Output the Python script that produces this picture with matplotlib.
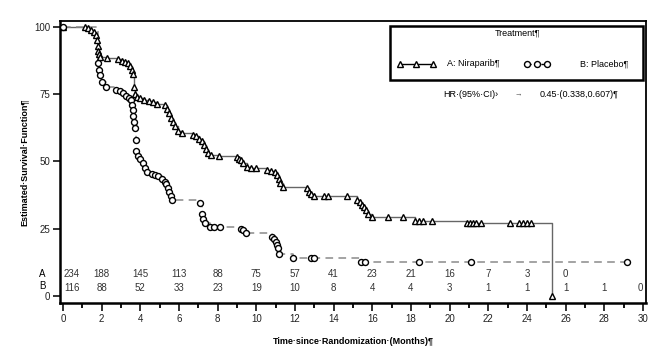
import numpy as np
import matplotlib.pyplot as plt
from matplotlib.patches import Rectangle

plt.rcParams['font.family'] = ['Liberation Sans', 'DejaVu Sans']

# Niraparib arm (time in months, survival %)
nira_t = [0, 1.15, 1.3, 1.45, 1.6, 1.7, 1.75, 1.8, 1.82, 1.85, 1.9, 2.3, 2.85, 3.05,
          3.2, 3.35, 3.45, 3.55, 3.6, 3.65, 3.7, 3.85, 4.0, 4.2, 4.45, 4.65, 4.85,
          5.25, 5.4, 5.5, 5.6, 5.7, 5.8, 5.95, 6.15, 6.7, 6.9, 7.05, 7.2, 7.3, 7.4,
          7.5, 7.65, 8.05, 9.0, 9.1, 9.2, 9.3, 9.5, 9.7, 10.0, 10.55, 10.75, 10.95,
          11.05, 11.15, 11.25, 11.4, 12.6, 12.75, 12.85, 13.0, 13.5, 13.7, 14.7,
          15.2, 15.35, 15.45, 15.55, 15.65, 15.8, 16.0, 16.8, 17.6, 18.2, 18.4,
          18.6, 19.1, 20.9, 21.05, 21.2, 21.35, 21.6, 23.1, 23.6, 23.8, 24.0, 24.2,
          25.3]
nira_s = [100, 100, 99.5, 99, 98, 97, 95, 93, 91, 90, 89, 88.5, 88, 87.5,
          87, 86.5, 85.5, 84, 82.5, 77.5, 75, 74, 73.5, 73, 72.5, 72, 71.5,
          71, 69.5, 68, 66, 64.5, 63, 61.5, 60.5, 60, 59.5, 58.5, 57.5, 56, 54.5,
          53, 52.5, 52, 51.5, 51, 50.5, 49.5, 48, 47.5, 47.5, 47, 46.5, 46,
          45, 43.5, 42, 40.5, 40, 38.5, 38, 37, 37, 37, 37,
          35.5, 35, 34, 33, 32, 30.5, 29.5, 29.5, 29.5, 28, 28,
          28, 28, 27, 27, 27, 27, 27, 27, 27, 27, 27, 27,
          0]

# Placebo arm
plac_t = [0, 1.82, 1.85, 1.9, 2.0, 2.2, 2.75, 2.95, 3.1, 3.25, 3.4, 3.5, 3.57, 3.6,
          3.62, 3.65, 3.7, 3.75, 3.78, 3.9, 4.0, 4.15, 4.25, 4.35, 4.6, 4.75, 4.9,
          5.1, 5.25, 5.35, 5.45, 5.5, 5.6, 5.65, 7.1, 7.2, 7.25, 7.35, 7.6, 7.8,
          8.1, 9.2, 9.3, 9.45, 10.8, 10.9, 11.0, 11.05, 11.1, 11.15, 11.9, 12.85,
          13.0, 15.4, 15.6, 18.4, 21.1, 29.2]
plac_s = [100, 86.5, 84, 82, 79.5, 77.5, 76.5, 76, 75.5, 74.5, 73.5, 73, 71, 69,
          67, 64.5, 62.5, 58, 54, 52, 51, 49.5, 47.5, 46, 45.5, 45, 44.5,
          43.5, 42.5, 41.5, 40, 38.5, 37, 35.5, 34.5, 30.5, 28.5, 27, 25.5, 25.5,
          25.5, 25, 24.5, 23.5, 22, 21, 20, 19, 18, 15.5, 14, 14,
          14, 12.5, 12.5, 12.5, 12.5, 12.5]

# numbers at risk
risk_times_a = [0, 2, 4, 6, 8, 10, 12, 14, 16, 18, 20, 22, 24, 26]
risk_a = [234, 188, 145, 113, 88, 75, 57, 41, 23, 21, 16, 7, 3, 0]
risk_times_b = [0, 2, 4, 6, 8, 10, 12, 14, 16, 18, 20, 22, 24, 26, 28, 30]
risk_b = [116, 88, 52, 33, 23, 19, 10, 8, 4, 4, 3, 1, 1, 1, 1, 0]

fig = plt.figure(figsize=(6.7, 3.55), dpi=100)
ax = fig.add_axes([0.0896, 0.1465, 0.8746, 0.7944])

ax.plot(nira_t, nira_s, drawstyle='steps-post', color='#666666', lw=1.0, zorder=2)
ax.plot(nira_t, nira_s, ls='none', marker='^', ms=4.8, mfc='white', mec='black', mew=1.0, zorder=3)
ax.plot(plac_t, plac_s, drawstyle='steps-post', color='#8a8a8a', lw=1.1, ls=(0, (5, 3.5)), zorder=2)
ax.plot(plac_t, plac_s, ls='none', marker='o', ms=4.3, mfc='white', mec='black', mew=1.0, zorder=3)


def risk_row(times, counts, y):
    for t, n in zip(times, counts):
        if t == 0:
            ax.text(t + 0.05, y, str(n), ha='left', va='center', fontsize=7, color='#333333')
        elif t == 30:
            ax.text(t - 0.02, y, str(n), ha='right', va='center', fontsize=7, color='#333333')
        else:
            ax.text(t, y, str(n), ha='center', va='center', fontsize=7, color='#333333')


risk_row(risk_times_a, risk_a, 8.2)
risk_row(risk_times_b, risk_b, 3.0)
ax.text(-1.05, 8.2, 'A', ha='center', va='center', fontsize=7, clip_on=False)
ax.text(-1.05, 3.6, 'B', ha='center', va='center', fontsize=7, clip_on=False)

ax.set_xlim(-0.155, 30.16)
ax.set_ylim(-2.6, 102.2)
ax.set_xticks(np.arange(0, 31, 2))
ax.set_xticks(np.arange(1, 30, 2), minor=True)
ax.set_yticks([0, 25, 50, 75, 100])
ax.tick_params(axis='both', labelsize=7, width=1.3, direction='out', colors='#222222')
ax.tick_params(axis='x', which='major', length=6, pad=2)
ax.tick_params(axis='x', which='minor', length=3.5, width=1.3)
ax.tick_params(axis='y', length=5, pad=2)
for sp in ax.spines.values():
    sp.set_linewidth(1.3)
ax.spines['left'].set_linewidth(1.8)
ax.spines['bottom'].set_linewidth(1.8)

ax.set_xlabel('Time·since·Randomization·(Months)¶', fontsize=6.5, fontweight='bold', labelpad=9)
ax.set_ylabel('Estimated·Survival·Function¶', fontsize=6.5, fontweight='bold', labelpad=4)

# legend box
ax.add_patch(Rectangle((0.563, 0.791), 0.432, 0.191, transform=ax.transAxes,
                       fill=False, lw=1.8, ec='black', zorder=5))
ax.text(0.780, 0.957, 'Treatment¶', transform=ax.transAxes, ha='center', va='center', fontsize=6.5)
ax.plot([0.580, 0.608, 0.637], [0.848] * 3, transform=ax.transAxes, color='black', lw=1.0,
        marker='^', ms=4.8, mfc='white', mec='black', mew=1.0)
ax.text(0.660, 0.848, 'A: Niraparib¶', transform=ax.transAxes, va='center', fontsize=6.5)
ax.plot([0.797, 0.814, 0.831], [0.848] * 3, transform=ax.transAxes, color='black', lw=1.0,
        ls=(0, (3, 2)), marker='o', ms=4.3, mfc='white', mec='black', mew=1.0)
ax.text(0.887, 0.848, 'B: Placebo¶', transform=ax.transAxes, va='center', fontsize=6.5)

ax.text(0.654, 0.738, 'HR·(95%·CI)›', transform=ax.transAxes, va='center', fontsize=6.5)
ax.text(0.776, 0.738, '→', transform=ax.transAxes, va='center', fontsize=5.5, color='#555555')
ax.text(0.819, 0.738, '0.45·(0.338,0.607)¶', transform=ax.transAxes, va='center', fontsize=6.5)

fig.savefig('out.png', dpi=100)
